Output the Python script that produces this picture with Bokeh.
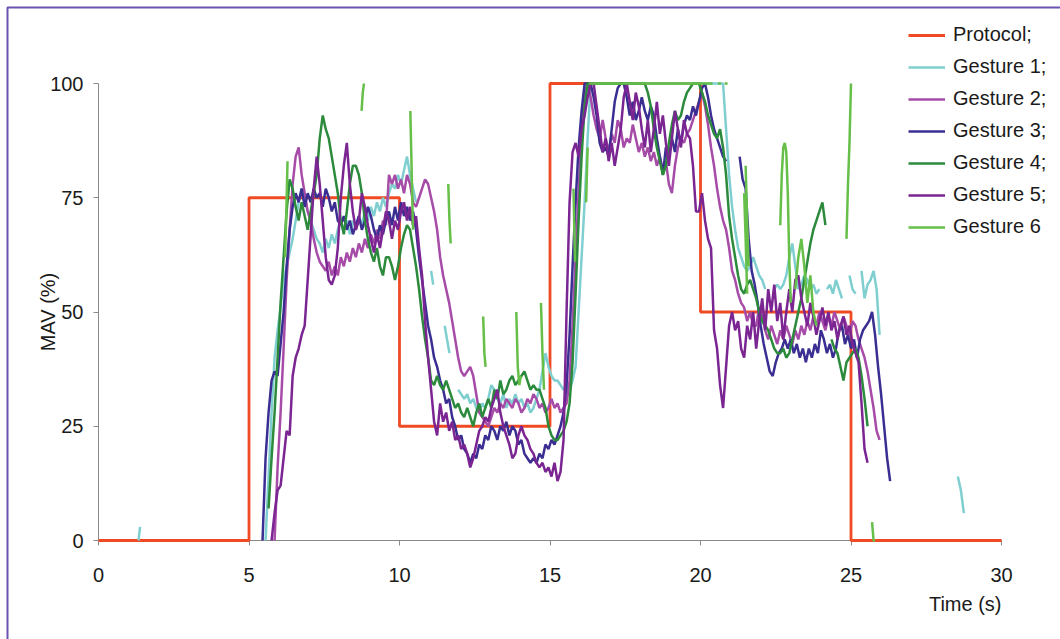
import numpy as np
from bokeh.plotting import figure
from bokeh.models import Range1d, Legend, LegendItem, Label, BoxAnnotation, FixedTicker
from bokeh.embed import file_html
from bokeh.resources import INLINE

# ---------------- data ----------------
x_ticks = [0, 5, 10, 15, 20, 25, 30]
y_ticks = [0, 25, 50, 75, 100]

protocol_t = [0, 5, 5, 10, 10, 15, 15, 20, 20, 25, 25, 30]
protocol_v = [0, 0, 75, 75, 25, 25, 100, 100, 50, 50, 0, 0]

# each segment: (start time s, sample step s, values %)
g1_segments = [
    (1.33, 0.05, [0, 3]),
    (5.55, 0.1, [0, 14, 28, 40, 46, 51, 57, 60, 63, 66,
                 70, 74, 77, 75, 72, 70, 68, 66, 65, 63,
                 66, 64, 67, 65, 68, 70, 68, 70, 67, 70,
                 68, 71, 69, 72, 70, 73, 71, 74, 72, 75,
                 73, 76, 78, 77, 80, 78, 81, 84, 80, 77, 74]),
    (11.05, 0.07, [59, 56]),
    (11.5, 0.08, [47, 44, 41]),
    (11.95, 0.1, [33, 32, 31, 32, 30, 31, 29, 28, 30, 29,
                  31, 34, 33, 31, 30, 32, 29, 31, 30, 32,
                  30, 31, 29, 30, 28, 29, 31, 33, 37, 41,
                  38, 36, 35, 35, 34, 33, 34, 33, 35, 38,
                  50, 62, 74, 88, 100,
                  100, 100, 100, 100, 100, 100, 100, 100, 100, 100,
                  100, 100, 100, 100, 100, 100, 100, 100, 100, 100,
                  100, 100, 100, 100, 100, 100, 100, 100, 100, 100,
                  100, 100, 100, 100, 100, 100, 100, 100, 100, 100,
                  100, 100, 100, 100,
                  90, 80, 73, 68, 64, 62, 60, 59, 60, 62,
                  60, 58, 57, 55]),
    (22.45, 0.1, [55, 56, 55, 56, 58, 62, 65, 60, 55, 56, 58, 57, 55, 56, 54, 55]),
    (24.2, 0.1, [55, 56, 54, 57, 55, 53]),
    (24.95, 0.1, [58, 55, 54]),
    (25.35, 0.1, [59, 53, 56, 57, 59, 55, 45]),
    (28.55, 0.1, [14, 11, 6]),
]

g2_segments = [
    (5.85, 0.1, [0, 16, 28, 42, 57, 68, 78, 84, 86, 80,
                 76, 72, 70, 66, 63, 61, 60, 59, 61, 58,
                 60, 58, 62, 60, 63, 61, 64, 62, 65, 63,
                 66, 64, 67, 65, 68, 66, 70, 69, 80, 78,
                 80, 77, 79, 76, 80, 78, 74, 73, 75, 77,
                 79, 78, 75, 72, 68, 62, 58, 55, 52, 48,
                 44, 40, 37, 36, 37, 38, 36, 32, 28, 27,
                 26, 25, 27, 29, 28, 30, 29, 31, 30, 29,
                 31, 30, 28, 29, 31, 30, 32, 31, 29, 30,
                 28, 29, 31, 29, 30, 28, 29, 30, 35, 47,
                 62, 76, 90, 98, 100, 97, 93, 90, 88, 92,
                 88, 85, 89, 87, 92, 90, 86, 88, 87, 91,
                 88, 85, 87, 84, 86, 83, 85, 82, 84, 81,
                 83, 78, 76, 82, 86, 88, 87, 89, 90, 92,
                 94, 96, 98, 95, 91, 86, 82, 77, 73, 70,
                 68, 64, 59, 57, 54, 52, 51, 48, 50, 47,
                 47, 51, 49, 46, 44, 47, 45, 43, 46, 44,
                 47, 45, 43, 46, 44, 47, 45, 48, 46, 49,
                 47, 50, 48, 46, 49, 47, 50, 48, 46, 49,
                 47, 45, 48, 47, 44, 42, 40, 37, 33, 29,
                 24, 22]),
]

g3_segments = [
    (5.45, 0.1, [0, 18, 28, 35, 37, 36, 43, 50, 60, 68,
                 73, 76, 74, 77, 73, 76, 74, 77, 75, 76,
                 73, 77, 75, 72, 74, 70, 69, 71, 68, 70,
                 67, 69, 71, 68, 70, 73, 71, 68, 66, 69,
                 67, 70, 72, 69, 73, 70, 74, 71, 73, 70,
                 72, 68, 62, 57, 52, 47, 44, 40, 38, 35,
                 33, 30, 31, 27, 25, 22, 23, 20, 19, 17,
                 19, 18, 21, 20, 23, 22, 25, 24, 22, 25,
                 24, 26, 23, 25, 24, 21, 22, 19, 18, 17,
                 18, 17, 19, 18, 21, 20, 22, 21, 23, 25,
                 28, 34, 45, 60, 74, 86, 94, 100, 100, 100,
                 97, 93, 87, 85, 86, 84, 90, 96, 99, 100,
                 100, 97, 93, 96, 92, 94, 97, 94, 92, 95,
                 93, 88, 84, 80, 86, 84, 88, 85, 90, 87,
                 91, 93, 92, 95, 93, 96, 99, 100, 97, 93,
                 90, 88, 86, 84, 83]),
    (21.3, 0.1, [84, 79, 77, 66, 59, 56, 52, 47, 43, 40,
                 37, 36, 39, 41, 42, 44, 42, 44, 41, 43,
                 40, 42, 39, 42, 40, 43, 41, 46, 44, 41,
                 43, 40, 42, 46, 47, 43, 45, 42, 44, 40,
                 44, 46, 47, 48, 50, 45, 38, 32, 25, 18, 13]),
]

g4_segments = [
    (5.65, 0.1, [7, 18, 28, 40, 52, 62, 72, 79, 77, 73,
                 70, 74, 71, 68, 72, 76, 80, 88, 93, 90,
                 88, 84, 80, 76, 70, 67, 72, 78, 82, 82,
                 80, 76, 70, 66, 63, 61, 64, 60, 58, 62,
                 62, 60, 57, 60, 64, 67, 69, 68, 64, 60,
                 55, 49, 44, 40, 35, 34, 36, 34, 33, 35,
                 33, 31, 29, 30, 28, 27, 29, 27, 25, 28,
                 30, 27, 29, 31, 29, 33, 31, 35, 32, 33,
                 35, 36, 34, 35, 36, 37, 35, 33, 34, 33,
                 33, 31, 29, 25, 23, 22, 22, 23, 24, 26,
                 30, 39, 54, 70, 84, 95, 100, 100, 100, 100,
                 100, 100, 100, 100, 100, 100, 100, 100, 100, 100,
                 100, 100, 100, 100, 100, 100, 98, 95, 90, 86,
                 83, 80, 82, 87, 91, 94, 92, 93, 96, 98,
                 99, 100, 100, 100, 98, 96, 93, 91, 89, 88,
                 90, 86, 80, 71, 66, 62, 58, 55, 54, 56,
                 57, 55, 53, 50, 48, 47, 46, 44, 42, 41,
                 41, 42, 40, 41, 44, 47, 50, 53, 57, 61,
                 65, 68, 70, 72, 74, 69]),
    (24.35, 0.1, [44, 42, 41, 38, 35, 39, 40, 41, 42, 40, 36, 31, 25]),
]

g5_segments = [
    (5.75, 0.1, [0, 6, 11, 12, 18, 24, 23, 36, 40, 42,
                 45, 47, 57, 67, 77, 84, 78, 70, 62, 57,
                 56, 58, 64, 75, 82, 87, 78, 72, 68, 70,
                 76, 73, 69, 66, 63, 67, 64, 68, 72, 70,
                 66, 70, 68, 72, 74, 70, 73, 69, 71, 64,
                 58, 48, 40, 33, 26, 23, 30, 26, 28, 24,
                 26, 22, 23, 20, 21, 19, 16, 18, 21, 24,
                 25, 27, 26, 29, 31, 33, 28, 25, 23, 21,
                 18, 19, 23, 25, 23, 22, 20, 19, 17, 16,
                 17, 15, 16, 14, 17, 13, 15, 22, 50, 74,
                 85, 87, 84, 90, 93, 97, 100, 100, 95, 90,
                 85, 88, 83, 87, 82, 86, 90, 97, 100, 96,
                 92, 98, 95, 90, 86, 92, 85, 90, 96, 89,
                 93, 87, 82, 88, 94, 90, 86, 92, 89, 88,
                 82, 72, 72, 76, 70, 66, 64, 46, 42, 34,
                 29, 38, 47, 50, 46, 48, 42, 40, 47, 44,
                 50, 42, 48, 53, 46, 55, 50, 56, 48, 52,
                 44, 50, 55, 50, 57, 58, 53, 50, 47, 52,
                 49, 45, 48, 51, 47, 50, 46, 48, 44, 47,
                 49, 45, 47, 43, 41, 39, 30, 20, 17]),
]

g6_segments = [
    (6.2, 0.04, [62, 72, 83]),
    (8.74, 0.04, [94, 98, 100]),
    (10.36, 0.03, [94, 85, 76, 68]),
    (11.62, 0.04, [78, 70, 65]),
    (12.78, 0.04, [49, 41, 38]),
    (13.88, 0.05, [50, 38, 34, 36]),
    (14.7, 0.05, [52, 41, 33]),
    (15.78, 0.05, [77, 61]),
    (16.2, 0.05, [74, 86]),
    (16.3, 0.1, [100] * 42),
    (20.58, 0.1, [100, 100]),
    (20.8, 0.1, [100, 100]),
    (21.45, 0.05, [76, 66, 54]),
    (21.5, 0.05, [82, 70, 60]),
    (22.65, 0.05, [69, 80, 86, 87, 85, 76, 61, 52]),
    (23.15, 0.1, [55, 62, 66, 60, 52, 58, 50, 47]),
    (24.85, 0.05, [66, 78, 87, 100]),
    (25.7, 0.05, [4, 0, 0]),
]

names = ["Protocol;", "Gesture 1;", "Gesture 2;", "Gesture 3;", "Gesture 4;", "Gesture 5;", "Gesture 6"]
colors = ["#ef4a24", "#80cfd0", "#a64ca8", "#3a2e92", "#2b8a3b", "#7a2592", "#66bf48"]


def build(segments):
    xs, ys = [], []
    for start, step, vals in segments:
        if xs:
            xs.append(np.nan)
            ys.append(np.nan)
        for i, v in enumerate(vals):
            xs.append(start + i * step)
            ys.append(v)
    return xs, ys


FONT = "Liberation Sans"
W, H = 1060, 639
X0PX, X30PX = 98.0, 1001.0     # pixel of t=0 and t=30
Y0PX, Y100PX = 540.0, 83.0     # pixel of 0 % and 100 %
sx = (X30PX - X0PX) / 30.0
sy = (Y0PX - Y100PX) / 100.0

p = figure(width=W, height=H,
           x_range=Range1d(-X0PX / sx, (W - X0PX) / sx),
           y_range=Range1d(-(H - Y0PX) / sy, Y0PX / sy),
           output_backend="svg", toolbar_location=None, min_border=0)
p.outline_line_color = None
p.grid.visible = False
p.background_fill_color = "white"
p.border_fill_color = "white"

renderers = []
renderers.append(p.line(protocol_t, protocol_v, line_color=colors[0], line_width=2.8))
for segs, col in zip([g1_segments, g2_segments, g3_segments, g4_segments, g5_segments, g6_segments], colors[1:]):
    xs, ys = build(segs)
    renderers.append(p.line(xs, ys, line_color=col, line_width=2.5))

p.xaxis.ticker = FixedTicker(ticks=x_ticks)
p.yaxis.ticker = FixedTicker(ticks=y_ticks)
p.xaxis.fixed_location = 0
p.yaxis.fixed_location = 0
p.xaxis.bounds = (0, 30)
p.yaxis.bounds = (0, 100)
for ax in (p.xaxis, p.yaxis):
    ax.level = "underlay"
    ax.axis_line_color = "#8a8a8a"
    ax.major_tick_line_color = "#8a8a8a"
    ax.minor_tick_line_color = None
    ax.major_tick_in = 0
    ax.major_tick_out = 5
    ax.major_label_text_font = FONT
    ax.major_label_text_font_size = "20px"
    ax.major_label_text_color = "#1a1a1a"
p.xaxis.major_label_standoff = 22
p.yaxis.major_label_standoff = 10
p.yaxis.axis_label = "MAV (%)"
p.yaxis.axis_label_text_font = FONT
p.yaxis.axis_label_text_font_size = "20px"
p.yaxis.axis_label_text_font_style = "normal"
p.yaxis.axis_label_text_color = "#1a1a1a"
p.yaxis.axis_label_standoff = -12

p.add_layout(Label(x=30, y=-(603 - Y0PX) / sy, text="Time (s)",
                   text_align="right", text_baseline="middle", text_font=FONT,
                   text_font_size="20px", text_color="#1a1a1a"))

legend = Legend(items=[LegendItem(label=n, renderers=[r]) for n, r in zip(names, renderers)],
                location=(908, 401), orientation="vertical",
                glyph_width=37, glyph_height=20, label_height=20, label_standoff=8,
                spacing=9, padding=0, margin=0,
                border_line_alpha=0, background_fill_alpha=0,
                label_text_font=FONT, label_text_font_size="20px", label_text_color="#1a1a1a")
p.add_layout(legend)

# purple frame round the picture
p.add_layout(BoxAnnotation(left=(7 - X0PX) / sx, right=(1070 - X0PX) / sx,
                           top=(Y0PX - 7) / sy, bottom=(Y0PX - 660) / sy,
                           fill_alpha=0, line_color="#6a52b4", line_alpha=1.0, line_width=2))

open("out.html", "w").write(file_html(p, INLINE))
